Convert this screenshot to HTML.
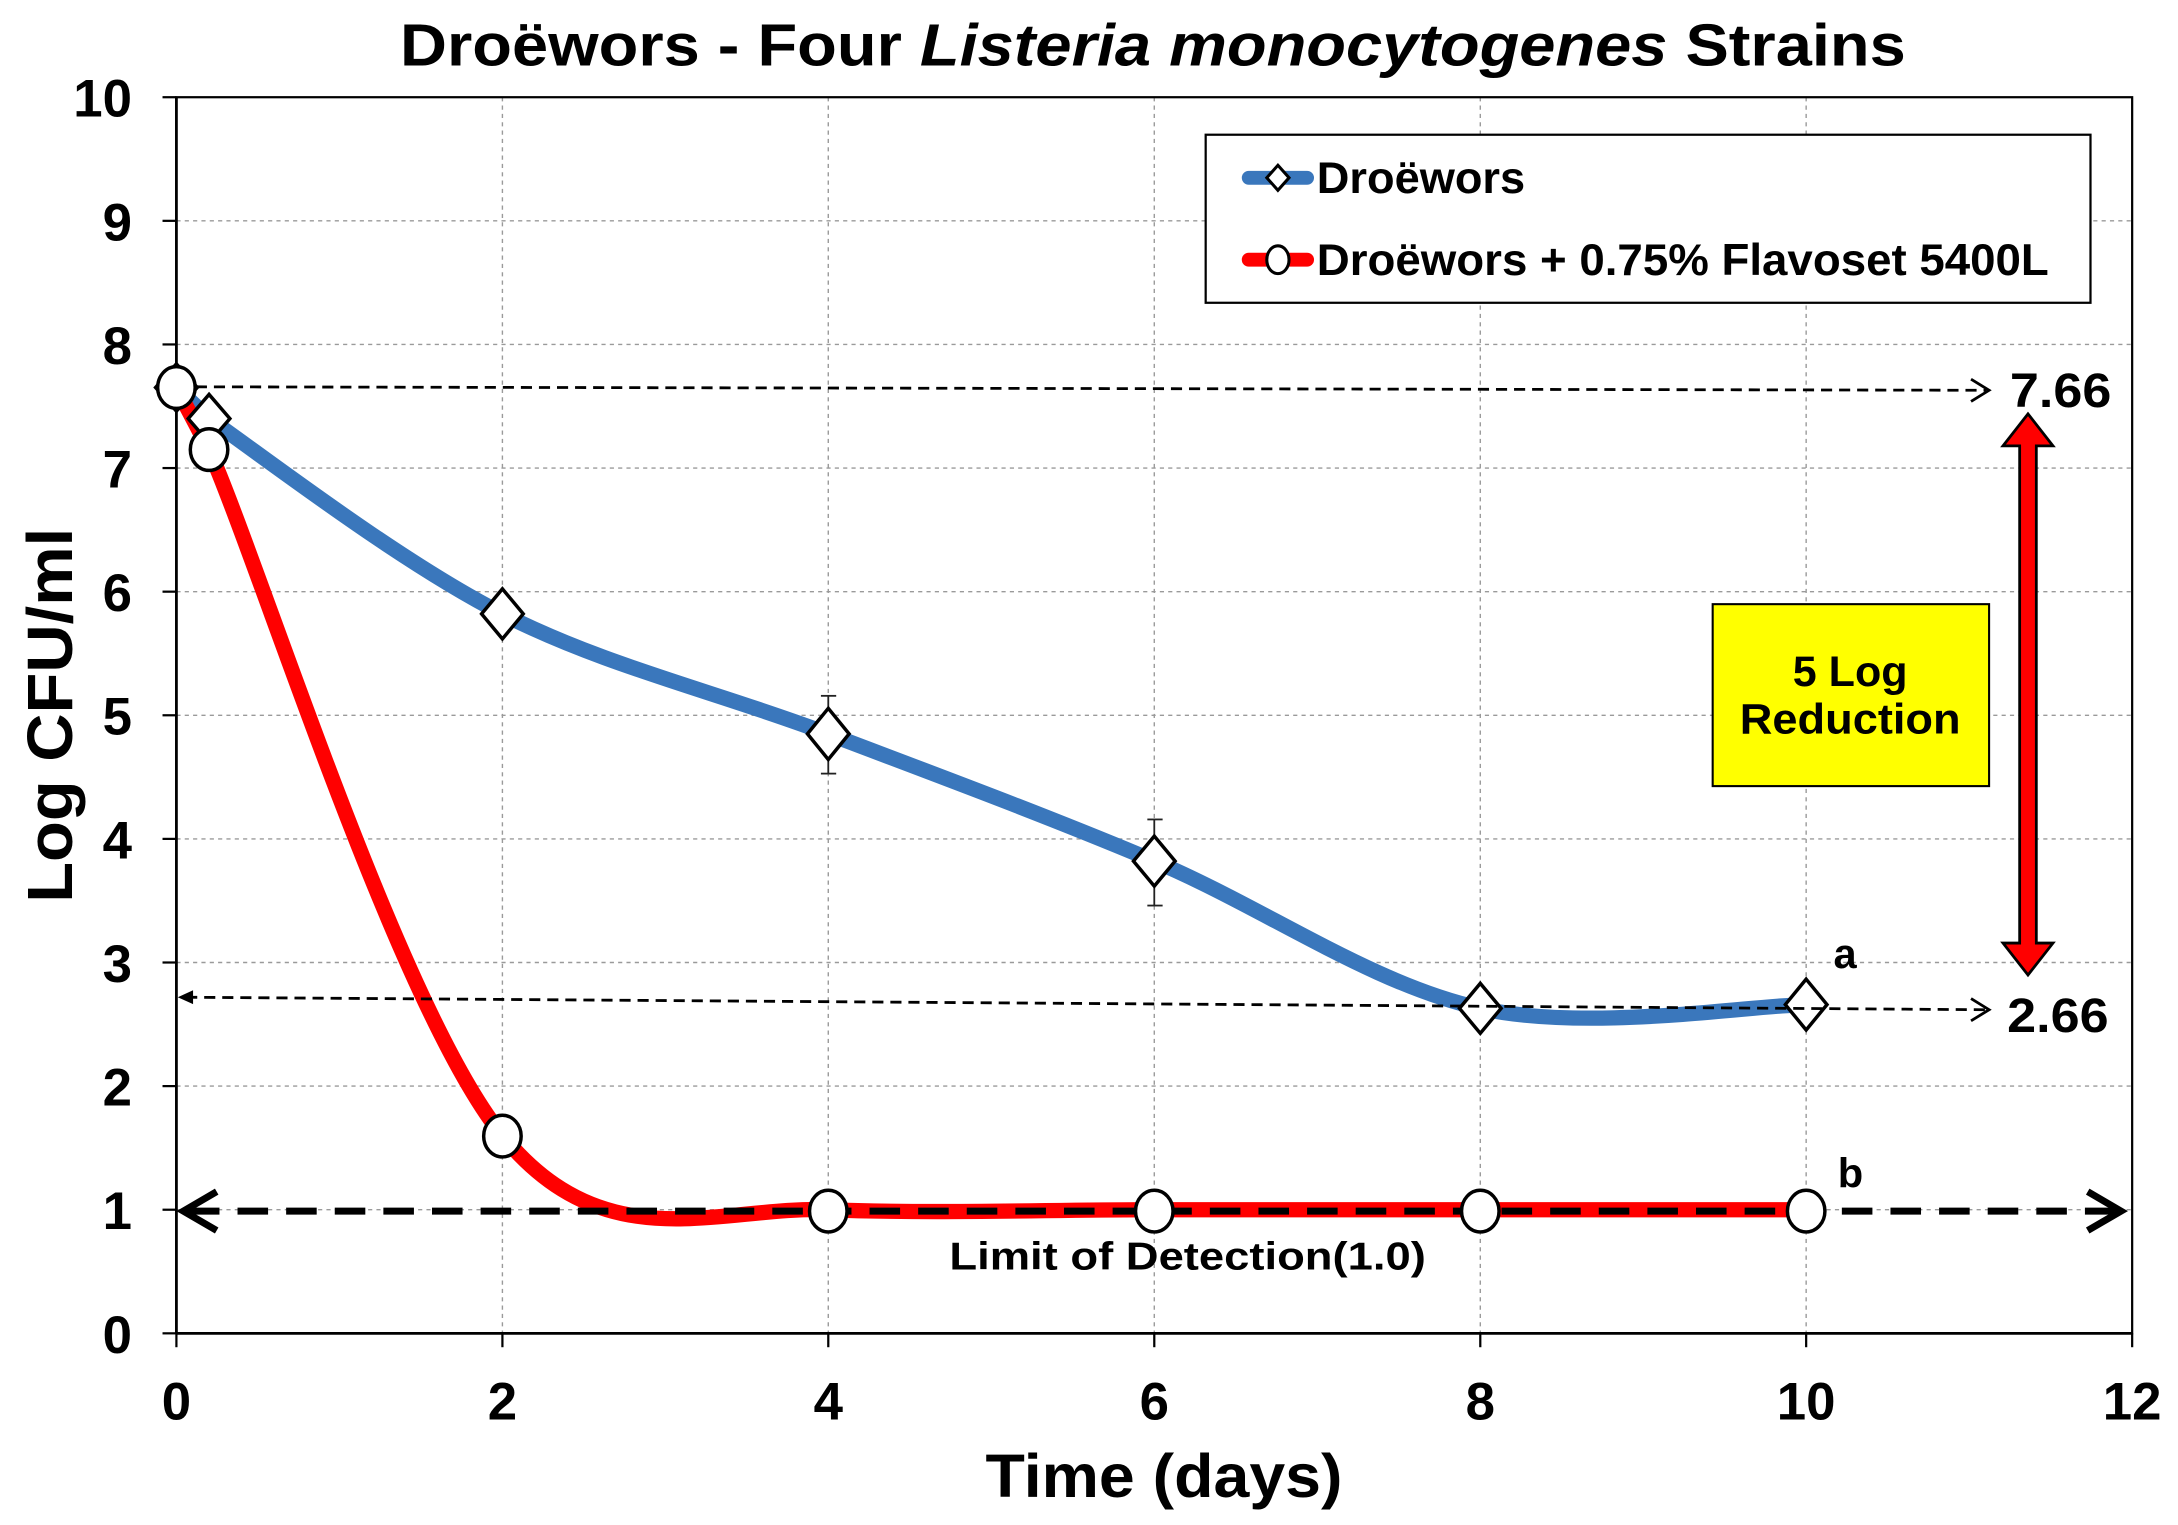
<!DOCTYPE html>
<html>
<head>
<meta charset="utf-8">
<style>
html,body{margin:0;padding:0;background:#fff;}
svg{display:block;}
text{font-family:"Liberation Sans",Arial,sans-serif;font-weight:bold;fill:#000;}
</style>
</head>
<body>
<svg width="2178" height="1525" viewBox="0 0 1568 1098" preserveAspectRatio="none" xmlns="http://www.w3.org/2000/svg">
<rect x="0" y="0" width="1568" height="1098" fill="#fff"/>

<!-- Title -->
<text x="830" y="47" text-anchor="middle" font-size="43" textLength="1084" lengthAdjust="spacingAndGlyphs">Droëwors - Four <tspan font-style="italic">Listeria monocytogenes</tspan> Strains</text>

<!-- Grid -->
<g stroke="#9a9a9a" stroke-width="1" stroke-dasharray="3,3" fill="none">
<line x1="361.7" y1="70" x2="361.7" y2="960"/>
<line x1="596.3" y1="70" x2="596.3" y2="960"/>
<line x1="831" y1="70" x2="831" y2="960"/>
<line x1="1065.7" y1="70" x2="1065.7" y2="960"/>
<line x1="1300.3" y1="70" x2="1300.3" y2="960"/>
<line x1="127" y1="159" x2="1535" y2="159"/>
<line x1="127" y1="248" x2="1535" y2="248"/>
<line x1="127" y1="337" x2="1535" y2="337"/>
<line x1="127" y1="426" x2="1535" y2="426"/>
<line x1="127" y1="515" x2="1535" y2="515"/>
<line x1="127" y1="604" x2="1535" y2="604"/>
<line x1="127" y1="693" x2="1535" y2="693"/>
<line x1="127" y1="782" x2="1535" y2="782"/>
<line x1="127" y1="871" x2="1535" y2="871"/>
</g>

<!-- Frame -->
<rect x="127" y="70" width="1408" height="890" fill="none" stroke="#000" stroke-width="1.6"/>
<line x1="127" y1="70" x2="127" y2="960" stroke="#000" stroke-width="2"/>
<line x1="127" y1="960" x2="1535" y2="960" stroke="#000" stroke-width="2"/>

<!-- Ticks -->
<g stroke="#000" stroke-width="1.6">
<line x1="117" y1="70" x2="127" y2="70"/>
<line x1="117" y1="159" x2="127" y2="159"/>
<line x1="117" y1="248" x2="127" y2="248"/>
<line x1="117" y1="337" x2="127" y2="337"/>
<line x1="117" y1="426" x2="127" y2="426"/>
<line x1="117" y1="515" x2="127" y2="515"/>
<line x1="117" y1="604" x2="127" y2="604"/>
<line x1="117" y1="693" x2="127" y2="693"/>
<line x1="117" y1="782" x2="127" y2="782"/>
<line x1="117" y1="871" x2="127" y2="871"/>
<line x1="117" y1="960" x2="127" y2="960"/>
<line x1="127" y1="960" x2="127" y2="970"/>
<line x1="361.7" y1="960" x2="361.7" y2="970"/>
<line x1="596.3" y1="960" x2="596.3" y2="970"/>
<line x1="831" y1="960" x2="831" y2="970"/>
<line x1="1065.7" y1="960" x2="1065.7" y2="970"/>
<line x1="1300.3" y1="960" x2="1300.3" y2="970"/>
<line x1="1535" y1="960" x2="1535" y2="970"/>
</g>

<!-- Y tick labels -->
<g font-size="38" text-anchor="end">
<text x="95" y="84">10</text>
<text x="95" y="173">9</text>
<text x="95" y="262">8</text>
<text x="95" y="351">7</text>
<text x="95" y="440">6</text>
<text x="95" y="529">5</text>
<text x="95" y="618">4</text>
<text x="95" y="707">3</text>
<text x="95" y="796">2</text>
<text x="95" y="885">1</text>
<text x="95" y="974">0</text>
</g>
<!-- X tick labels -->
<g font-size="38" text-anchor="middle">
<text x="127" y="1022">0</text>
<text x="361.7" y="1022">2</text>
<text x="596.3" y="1022">4</text>
<text x="831" y="1022">6</text>
<text x="1065.7" y="1022">8</text>
<text x="1300.3" y="1022">10</text>
<text x="1535" y="1022">12</text>
</g>

<!-- Axis titles -->
<text x="838" y="1078" text-anchor="middle" font-size="44" textLength="257" lengthAdjust="spacingAndGlyphs">Time (days)</text>
<text transform="translate(52,515) rotate(-90)" text-anchor="middle" font-size="46" textLength="270" lengthAdjust="spacingAndGlyphs">Log CFU/ml</text>

<!-- Blue series -->
<path d="M127,279 L150.5,301.4 C189.6,328.6 287.4,404.2 361.7,442 C436,479.8 518.1,498.7 596.3,528.4 C674.5,558.1 752.8,587.1 831,620 C909.2,652.9 987.5,708.8 1065.7,726 C1143.9,743.2 1261.2,723.75 1300.3,723.3" fill="none" stroke="#3A77BC" stroke-width="11" stroke-linejoin="round" stroke-linecap="round"/>

<!-- Red series -->
<path d="M127,279 L150.5,323.7 C189.6,413.5 287.4,726.4 361.7,817.6 C436,908.8 518.1,868 596.3,871 C674.5,874 752.8,871 831,871 L1300.3,871" fill="none" stroke="#FF0000" stroke-width="11" stroke-linejoin="round" stroke-linecap="butt"/>

<!-- Limit of detection dashed line -->
<line x1="136" y1="872" x2="1522" y2="872" stroke="#000" stroke-width="5" stroke-dasharray="22,13"/>
<polyline points="156,858 132,872 156,886" fill="none" stroke="#000" stroke-width="5"/>
<polyline points="1503,858 1527,872 1503,886" fill="none" stroke="#000" stroke-width="5"/>
<text x="855" y="914" text-anchor="middle" font-size="28" textLength="343" lengthAdjust="spacingAndGlyphs">Limit of Detection(1.0)</text>

<!-- Error bars -->
<g stroke="#222" stroke-width="1.3">
<line x1="596.3" y1="501" x2="596.3" y2="557"/>
<line x1="591" y1="501" x2="602" y2="501"/>
<line x1="591" y1="557" x2="602" y2="557"/>
<line x1="831" y1="590" x2="831" y2="652"/>
<line x1="826" y1="590" x2="837" y2="590"/>
<line x1="826" y1="652" x2="837" y2="652"/>
</g>

<!-- Blue diamond markers -->
<g fill="#fff" stroke="#000" stroke-width="2.5">
<polygon points="127,262 142,279 127,296 112,279"/>
<polygon points="150.5,284 165.5,301.4 150.5,318.8 135.5,301.4"/>
<polygon points="361.7,424 376.7,442 361.7,460 346.7,442"/>
<polygon points="596.3,510 611.3,528.4 596.3,546.8 581.3,528.4"/>
<polygon points="831,602 846,620 831,638 816,620"/>
<polygon points="1065.7,708 1080.7,726 1065.7,744 1050.7,726"/>
<polygon points="1300.3,705 1315.3,723.3 1300.3,741.6 1285.3,723.3"/>
</g>

<!-- Red circle markers -->
<g fill="#fff" stroke="#000" stroke-width="2.5">
<ellipse cx="127" cy="279" rx="13.5" ry="15"/>
<ellipse cx="150.5" cy="323.7" rx="13.5" ry="15"/>
<ellipse cx="361.7" cy="818" rx="13.5" ry="15"/>
<ellipse cx="596.3" cy="872" rx="13.5" ry="15"/>
<ellipse cx="831" cy="872" rx="13.5" ry="15"/>
<ellipse cx="1065.7" cy="872" rx="13.5" ry="15"/>
<ellipse cx="1300.3" cy="872" rx="13.5" ry="15"/>
</g>

<!-- Thin dashed reference arrows -->
<g stroke="#000" stroke-width="2" fill="none">
<line x1="141" y1="278.5" x2="1430" y2="281" stroke-dasharray="8,5"/>
<polyline points="1419,273 1432,281 1419,289"/>
<line x1="134" y1="718" x2="1430" y2="727" stroke-dasharray="8,5"/>
<polyline points="1419,719 1432,727 1419,735"/>
</g>
<polygon points="128,718 139,713 139,723" fill="#000"/>

<!-- Value labels -->
<text x="1447" y="293" font-size="35" textLength="73" lengthAdjust="spacingAndGlyphs">7.66</text>
<text x="1445" y="743" font-size="35" textLength="73" lengthAdjust="spacingAndGlyphs">2.66</text>
<text x="1320" y="697" font-size="30">a</text>
<text x="1323" y="855" font-size="30">b</text>

<!-- Red double arrow -->
<polygon points="1460,298 1478,321 1466,321 1466,679 1478,679 1460,702 1442,679 1454,679 1454,321 1442,321" fill="#FF0000" stroke="#000" stroke-width="2"/>

<!-- Yellow box -->
<rect x="1233" y="435" width="199" height="131" fill="#FFFF00" stroke="#000" stroke-width="1.5"/>
<text x="1332" y="494" text-anchor="middle" font-size="31">5 Log</text>
<text x="1332" y="528" text-anchor="middle" font-size="31" textLength="159" lengthAdjust="spacingAndGlyphs">Reduction</text>

<!-- Legend -->
<rect x="868" y="97" width="637" height="121" fill="#fff" stroke="#000" stroke-width="1.6"/>
<line x1="899" y1="128" x2="941" y2="128" stroke="#3A77BC" stroke-width="10" stroke-linecap="round"/>
<polygon points="920,119 928,128 920,137 912,128" fill="#fff" stroke="#000" stroke-width="2.2"/>
<text x="948" y="139" font-size="32" textLength="150" lengthAdjust="spacingAndGlyphs">Droëwors</text>
<line x1="899" y1="187" x2="941" y2="187" stroke="#FF0000" stroke-width="10" stroke-linecap="round"/>
<ellipse cx="920" cy="187" rx="8" ry="10" fill="#fff" stroke="#000" stroke-width="2.2"/>
<text x="948" y="198" font-size="32" textLength="527" lengthAdjust="spacingAndGlyphs">Droëwors + 0.75% Flavoset 5400L</text>
</svg>
</body>
</html>
